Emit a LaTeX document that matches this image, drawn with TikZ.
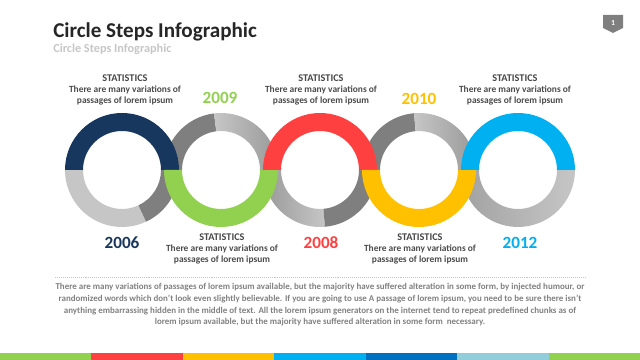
\documentclass[tikz,border=0pt]{standalone}
\usepackage{fontspec}
\setmainfont{Carlito}
\usepackage{tikz}
\usepackage{xcolor}
\definecolor{navy}{HTML}{17375E}
\definecolor{leafgreen}{HTML}{92D050}
\definecolor{signalred}{HTML}{FF4040}
\definecolor{amber}{HTML}{FFC000}
\definecolor{skyblue}{HTML}{00B0F0}
\definecolor{deepblue}{HTML}{0070C0}
\definecolor{paleblue}{HTML}{92CDDC}
\definecolor{dkgrey}{HTML}{7F7F7F}
\definecolor{midgrey}{HTML}{999999}
\definecolor{ltgrey}{HTML}{C6C6C6}
\definecolor{titletext}{HTML}{262626}
\definecolor{stattext}{HTML}{4A4A4A}
\definecolor{bodytext}{HTML}{808080}

\begin{document}
\begin{tikzpicture}[x=0.025cm,y=0.025cm,
    stat/.style={align=center,text=stattext,inner sep=0pt,font=\bfseries\fontsize{6.7}{7.8}\selectfont},
    year/.style={inner sep=0pt,font=\bfseries\fontsize{12.2}{14}\selectfont}]
        \useasboundingbox (0,0) rectangle (640,360);
        \node[anchor=west,inner sep=0pt,text=titletext,font=\bfseries\fontsize{15}{18}\selectfont] (title) at (53,328) {Circle Steps Infographic};
        \node[anchor=west,inner sep=0pt,text=ltgrey,font=\bfseries\fontsize{8.7}{10}\selectfont] (subtitle) at (53,311) {Circle Steps Infographic};
        \fill[dkgrey] (603,345) -- (623,345) -- (623,332) -- (613,327) -- (603,332) -- cycle;
        \node[text=white,inner sep=0pt,font=\bfseries\fontsize{5.5}{6}\selectfont] (pagenum) at (613,337) {1};
        % grey halves
        \fill[ltgrey] (122,190) ++(180:57) arc (180:295:57) -- ++(295:-18) arc (295:180:39) -- cycle;
        \fill[dkgrey] (122,190) ++(295:57) arc (295:360:57) -- ++(360:-18) arc (360:295:39) -- cycle;
        \fill[dkgrey] (221,190) ++(97:57) arc (97:180:57) -- ++(180:-18) arc (180:97:39) -- cycle;
        \shade[left color=ltgrey,right color=midgrey] (221,190) ++(0:57) arc (0:97:57) -- ++(97:-18) arc (97:0:39) -- cycle;
        \shade[left color=midgrey,right color=ltgrey] (320,190) ++(180:57) arc (180:275:57) -- ++(275:-18) arc (275:180:39) -- cycle;
        \fill[dkgrey] (320,190) ++(275:57) arc (275:360:57) -- ++(360:-18) arc (360:275:39) -- cycle;
        \fill[dkgrey] (419,190) ++(95:57) arc (95:180:57) -- ++(180:-18) arc (180:95:39) -- cycle;
        \shade[left color=ltgrey,right color=midgrey] (419,190) ++(0:57) arc (0:95:57) -- ++(95:-18) arc (95:0:39) -- cycle;
        \shade[left color=midgrey!80!ltgrey,right color=ltgrey] (518,190) ++(180:57) arc (180:360:57) -- ++(360:-18) arc (360:180:39) -- cycle;
        % coloured halves
        \fill[navy] (122,190) ++(0:57) arc (0:180:57) -- ++(180:-18) arc (180:0:39) -- cycle;
        \fill[leafgreen] (221,190) ++(180:57) arc (180:360:57) -- ++(360:-18) arc (360:180:39) -- cycle;
        \fill[signalred] (320,190) ++(0:57) arc (0:180:57) -- ++(180:-18) arc (180:0:39) -- cycle;
        \fill[amber] (419,190) ++(180:57) arc (180:360:57) -- ++(360:-18) arc (360:180:39) -- cycle;
        \fill[skyblue] (518,190) ++(0:57) arc (0:180:57) -- ++(180:-18) arc (180:0:39) -- cycle;
        % years
        \node[year,text=navy] (y2006) at (122,117) {2006};
        \node[year,text=leafgreen] (y2009) at (220,262) {2009};
        \node[year,text=signalred] (y2008) at (321,117) {2008};
        \node[year,text=amber] (y2010) at (419,261) {2010};
        \node[year,text=skyblue] (y2012) at (520,117) {2012};
        % statistics
        \node[stat] (stat1) at (125,270) {{\color{titletext!85}\fontsize{7.3}{7.8}\selectfont STATISTICS}\\There are many variations of\\passages of lorem ipsum};
        \node[stat] (stat3) at (321,270) {{\color{titletext!85}\fontsize{7.3}{7.8}\selectfont STATISTICS}\\There are many variations of\\passages of lorem ipsum};
        \node[stat] (stat5) at (515,270) {{\color{titletext!85}\fontsize{7.3}{7.8}\selectfont STATISTICS}\\There are many variations of\\passages of lorem ipsum};
        \node[stat] (stat2) at (222,111) {{\color{titletext!85}\fontsize{7.3}{7.8}\selectfont STATISTICS}\\There are many variations of\\passages of lorem ipsum};
        \node[stat] (stat4) at (420,111) {{\color{titletext!85}\fontsize{7.3}{7.8}\selectfont STATISTICS}\\There are many variations of\\passages of lorem ipsum};
        % text block
        \draw[ltgrey,line width=0.4pt,dash pattern=on 0.5pt off 0.9pt] (55,83) -- (585,83);
        \node[align=center,inner sep=0pt,text=bodytext,font=\bfseries\fontsize{6.35}{8.3}\selectfont] (body) at (320,55) {There are many variations of passages of lorem ipsum available, but the majority have suffered alteration in some form, by injected humour, or\\randomized words which don't look even slightly believable. If you are going to use A passage of lorem ipsum, you need to be sure there isn't\\anything embarrassing hidden in the middle of text. All the lorem ipsum generators on the internet tend to repeat predefined chunks as of\\lorem ipsum available, but the majority have suffered alteration in some form\ \ necessary.};
        % colour bar
        \fill[leafgreen] (0,0) rectangle (91.4,7.3);
        \fill[signalred] (91.4,0) rectangle (182.9,7.3);
        \fill[amber] (182.9,0) rectangle (274.3,7.3);
        \fill[skyblue] (274.3,0) rectangle (365.7,7.3);
        \fill[deepblue] (365.7,0) rectangle (457.1,7.3);
        \fill[paleblue] (457.1,0) rectangle (548.6,7.3);
        \fill[leafgreen] (548.6,0) rectangle (640,7.3);
    \end{tikzpicture}
\end{document}
